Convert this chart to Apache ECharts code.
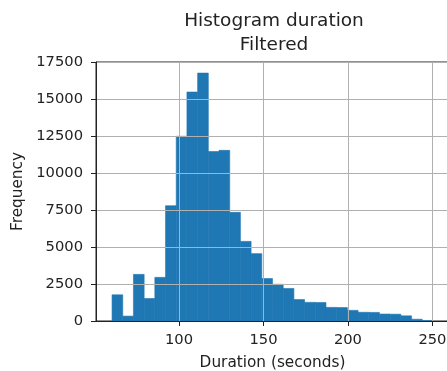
<!DOCTYPE html>
<html>
<head>
<meta charset="utf-8">
<script src="https://cdn.jsdelivr.net/npm/echarts@6/dist/echarts.min.js"></script>
<style>
  html, body { margin: 0; padding: 0; background: #fff; overflow: hidden; width: 447px; height: 371px; }
  #chart { width: 452px; height: 371px; }
</style>
</head>
<body>
<div id="chart"></div>
<script>
// Histogram of filtered durations: 30 equal-width bins
const binStart = 60.4;
const binWidth = 6.33;
const counts = [
  1770, 330, 3150, 1520, 2950, 7790, 12480, 15470, 16750, 11450,
  11530, 7340, 5380, 4550, 2870, 2480, 2200, 1450, 1260, 1250,
  920, 910, 720, 590, 580, 470, 460, 350, 120, 20
];
const xTicks = [100, 150, 200, 250];
const xRange = [50.9, 259.8];
const yMax = 17500;
const yStep = 2500;

const bins = counts.map((c, i) => [binStart + i * binWidth, binStart + (i + 1) * binWidth, c]);

const font = 'DejaVu Sans';
const textColor = '#222';
const spine = '#222';
const gridColor = '#b0b0b0';

const chart = echarts.init(document.getElementById('chart'), null, { renderer: 'canvas' });
chart.setOption({
  animation: false,
  backgroundColor: '#fff',
  title: {
    text: 'Histogram duration\nFiltered',
    left: 269,
    top: 4,
    textAlign: 'center',
    textStyle: { fontFamily: font, fontSize: 18.5, fontWeight: 'normal', color: textColor, lineHeight: 24 }
  },
  grid: {
    left: 96, right: 3, top: 62, bottom: 50,
    outerBoundsMode: 'none',
    containLabel: false,
    show: true, borderColor: spine, borderWidth: 1
  },
  xAxis: {
    type: 'value',
    z: 3,
    min: xRange[0],
    max: xRange[1],
    name: 'Duration (seconds)',
    nameLocation: 'middle',
    nameGap: 35,
    nameTextStyle: { fontFamily: font, fontSize: 15.3, color: textColor },
    axisLine: { show: true, onZero: false, lineStyle: { color: spine, width: 1 } },
    axisTick: { show: true, length: 5, customValues: xTicks, lineStyle: { color: spine } },
    axisLabel: { customValues: xTicks, fontFamily: font, fontSize: 14.7, color: textColor, margin: 12 },
    splitLine: { show: true, lineStyle: { color: gridColor, width: 1 } }
  },
  yAxis: {
    type: 'value',
    z: 3,
    min: 0,
    max: yMax,
    interval: yStep,
    name: 'Frequency',
    nameLocation: 'middle',
    nameRotate: 90,
    nameGap: 70,
    nameTextStyle: { fontFamily: font, fontSize: 15.3, color: textColor },
    axisLine: { show: true, lineStyle: { color: spine, width: 1 } },
    axisTick: { show: true, length: 5, lineStyle: { color: spine } },
    axisLabel: { fontFamily: font, fontSize: 14.7, color: textColor, margin: 13, formatter: v => String(v) },
    splitLine: { show: true, lineStyle: { color: gridColor, width: 1 } }
  },
  series: [{
    type: 'custom',
    z: 2,
    data: bins,
    encode: { x: [0, 1], y: 2 },
    renderItem: function (params, api) {
      const p0 = api.coord([api.value(0), api.value(2)]);
      const p1 = api.coord([api.value(1), 0]);
      return {
        type: 'rect',
        shape: { x: p0[0], y: p0[1], width: p1[0] - p0[0], height: p1[1] - p0[1] },
        style: { fill: '#1f77b4', stroke: '#1f77b4', lineWidth: 0.6 }
      };
    }
  }]
});
</script>
</body>
</html>
